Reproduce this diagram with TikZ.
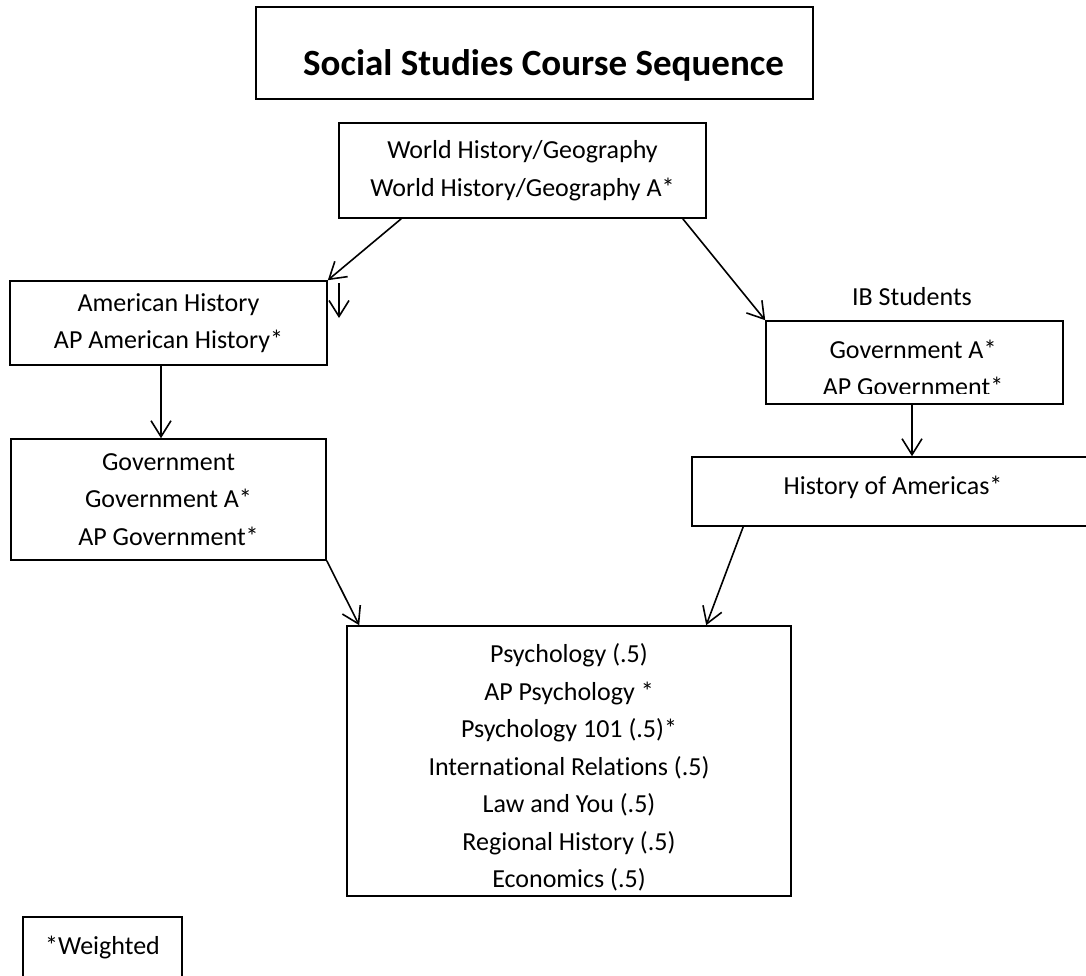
\documentclass[tikz,border=0pt]{standalone}
\usepackage{fontspec}
\setmainfont{Carlito}[Ligatures=NoCommon]
\usetikzlibrary{arrows.meta,calc}
\begin{document}
\begin{tikzpicture}[x=1pt,y=-1pt,
  box/.style={draw,line width=1.6pt,rectangle,inner sep=0pt,align=center,
    font=\fontsize{26}{37.5}\selectfont},
  txt/.style={inner sep=0pt,align=center,font=\fontsize{26}{37.5}\selectfont},
  arr/.style={line width=1.6pt,-{Straight Barb[length=16pt,width=20pt]}}]
\useasboundingbox (0,0) rectangle (1086,975);
% title
\node[box,minimum width=557pt,minimum height=92pt] (title) at (534.5,53) {};
\node[inner sep=0pt,anchor=base,font=\fontsize{37}{44}\selectfont\bfseries] (titletext) at (543.5,75) {Social Studies Course Sequence};
% boxes
\node[box,minimum width=367pt,minimum height=95pt] (wh) at (522.5,170.5) {World History/Geography\\World History/Geography A*};
\node[box,minimum width=317pt,minimum height=84pt] (amhist) at (168.5,323) {American History\\AP American History*};
\node[box,minimum width=315pt,minimum height=121pt] (gov) at (168.5,499.5) {Government\\Government A*\\AP Government*};
\node[txt] (ibl) at (912,297) {IB Students};
\node[box,minimum width=297pt,minimum height=83pt] (ib) at (914.5,362.5) {};
\node[txt] (ib1) at (913,349) {Government A*};
\begin{scope}
\clip (766,300) rectangle (1063,393);
\node[txt] (ib2) at (913,386.4) {AP Government*};
\end{scope}
\node[box,minimum width=402pt,minimum height=69pt] (hoa) at (893,491.5) {};
\node[txt] (hoat) at (893,487) {History of Americas*};
\node[box,minimum width=444pt,minimum height=270pt] (psy) at (569,761) {};
\node[txt] (psyt) at (569,767.5) {Psychology (.5)\\AP Psychology *\\Psychology 101 (.5)*\\International Relations (.5)\\Law and You (.5)\\Regional History (.5)\\Economics (.5)};
\node[box,minimum width=159pt,minimum height=68pt] (wbox) at (102.5,951) {};
\node[txt] (wt) at (102.5,947) {*Weighted};
% connectors
\coordinate (sa1) at (339,283);
\coordinate (sa2) at (339,318);
\coordinate (ibs) at ($(ib.south)+(-2.5,0)$);
\draw[arr] ($(wh.south west)+(63,0)$) -- (amhist.north east);
\draw[arr] (sa1) -- (sa2);
\draw[arr] ($(wh.south east)+(-24,0)$) -- (ib.north west);
\draw[arr] ($(amhist.south)+(-7.5,0)$) -- ($(gov.north)+(-7.5,0)$);
\draw[arr] (ibs) -- (ibs |- hoa.north);
\draw[arr] (gov.south east) -- ($(psy.north west)+(13,0)$);
\draw[arr] ($(hoa.south west)+(52,0)$) -- ($(psy.north west)+(360,0)$);
\end{tikzpicture}
\end{document}
